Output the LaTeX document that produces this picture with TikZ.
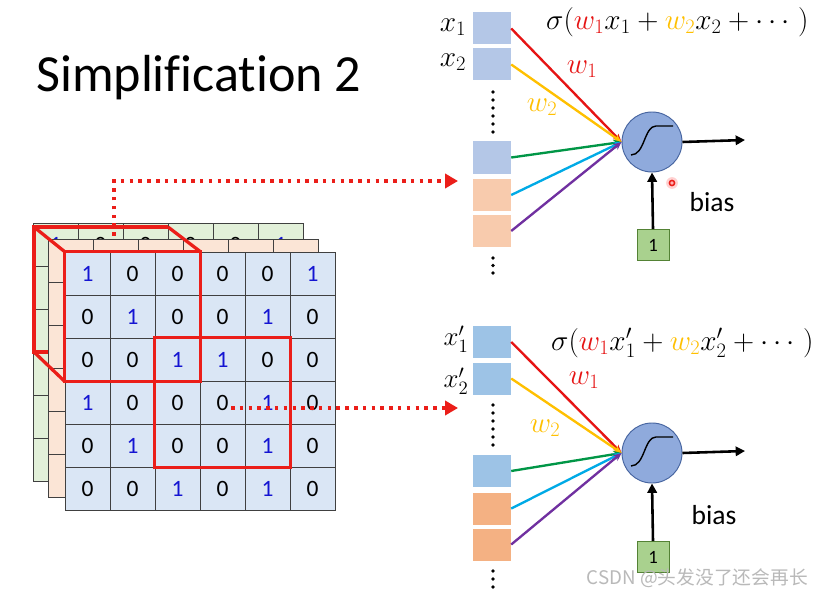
\documentclass[tikz,border=0pt]{standalone}
\usepackage{fix-cm}
\usepackage{fontspec}
\setmainfont{Carlito}[Ligatures=NoCommon]
\newfontfamily\cjk{Noto Sans CJK SC}
\usepackage{xcolor}
\usepackage{tikz}
\usetikzlibrary{arrows.meta,calc}
\definecolor{gridgray}{RGB}{64,64,64}
\definecolor{mapblue}{RGB}{218,230,245}
\definecolor{mappeach}{RGB}{251,229,214}
\definecolor{mapgreen}{RGB}{226,240,217}
\definecolor{digitblue}{RGB}{20,20,210}
\definecolor{boxred}{RGB}{235,30,25}
\definecolor{inblueA}{RGB}{180,199,231}
\definecolor{inpeachA}{RGB}{248,203,173}
\definecolor{inblueB}{RGB}{157,195,230}
\definecolor{inpeachB}{RGB}{244,177,131}
\definecolor{neuronblue}{RGB}{143,170,220}
\definecolor{neuronline}{RGB}{70,100,160}
\definecolor{onegreen}{RGB}{169,209,142}
\definecolor{onegreenline}{RGB}{84,130,53}
\definecolor{wred}{RGB}{230,20,20}
\definecolor{wyellow}{RGB}{255,192,0}
\definecolor{wgreen}{RGB}{0,150,70}
\definecolor{wcyan}{RGB}{0,170,230}
\definecolor{wpurple}{RGB}{112,48,160}
\newcommand{\cellval}[1]{\ifnum#1=1 \textcolor{digitblue}{1}\else 0\fi}
\def\mapvals{{1,0,0,0,0,1},{0,1,0,0,1,0},{0,0,1,1,0,0},{1,0,0,0,1,0},{0,1,0,0,1,0},{0,0,1,0,1,0}}

\begin{document}
\begin{tikzpicture}[
  x=0.03cm, y=-0.03cm,
  cell/.style = {
    rectangle, draw=gridgray, line width=0.6pt,
    minimum width=1.35cm, minimum height=1.29cm, inner sep=0pt,
    font=\fontsize{20}{22}\selectfont
  },
  inbox/.style = {rectangle, minimum width=1.14cm, minimum height=0.96cm, inner sep=0pt},
  neuron/.style = {
    circle, draw=neuronline, fill=neuronblue, line width=0.8pt,
    minimum size=1.8cm, inner sep=0pt
  },
  onebox/.style = {
    rectangle, draw=onegreenline, fill=onegreen, line width=0.8pt,
    minimum width=0.96cm, minimum height=0.93cm, inner sep=0pt,
    font=\fontsize{16}{18}\selectfont
  },
  mathlbl/.style = {font=\fontsize{25}{30}\selectfont, inner sep=0pt},
  primelbl/.style = {font=\fontsize{23}{26}\selectfont, inner sep=0pt},
  biaslbl/.style = {font=\fontsize{23.5}{26}\selectfont, inner sep=1pt},
  warr/.style = {-{Stealth[length=7pt,width=6pt]}, line width=2pt},
  outarr/.style = {-{Triangle[length=8pt,width=8pt]}, line width=2.2pt},
  dotarr/.style = {boxred, line width=3pt, dash pattern=on 3pt off 4.5pt,
    -{Triangle[length=11pt,width=12pt]}},
  redbox/.style = {boxred, line width=2.8pt}
]
  \fill[white] (0,0) rectangle (825,596);
  \useasboundingbox (0,0) rectangle (825,596);

  \node[anchor=west, font=\fontsize{44.5}{52}\selectfont] (title) at (32,78) {Simplification 2};

  % stacked feature maps
  \foreach \rowv [count=\i] in \mapvals {
    \foreach \v [count=\j] in \rowv
      \node[cell, fill=mapgreen] (g-\i-\j) at ({33+45*\j-22.5},{223+43*\i-21.5}) {\cellval{\v}};
  }
  \coordinate (cb1) at (34,227);
  \coordinate (cb2) at (168,227);
  \coordinate (cb3) at (34,352);
  \draw[redbox] (cb2) -- (cb1) -- (cb3) -- ++(134,0);
  \coordinate (src1) at (114,262);
  \coordinate (tgt1) at (458,181);
  \draw[dotarr] (src1) |- (tgt1);

  \foreach \rowv [count=\i] in \mapvals {
    \foreach \v [count=\j] in \rowv
      \node[cell, fill=mappeach] (p-\i-\j) at ({48+45*\j-22.5},{239+43*\i-21.5}) {\cellval{\v}};
  }
  \foreach \rowv [count=\i] in \mapvals {
    \foreach \v [count=\j] in \rowv
      \node[cell, fill=mapblue] (f-\i-\j) at ({65+45*\j-22.5},{252+43*\i-21.5}) {\cellval{\v}};
  }

  % receptive fields
  \draw[redbox] (cb1) -- (f-1-1.north west);
  \draw[redbox] (cb2) -- (f-1-3.north east);
  \draw[redbox] (cb3) -- (f-3-1.south west);
  \draw[redbox] (f-1-1.north west) rectangle (f-3-3.south east);
  \draw[redbox] (f-3-3.north west) rectangle (f-5-5.south east);
  \coordinate (src2) at (231,408);
  \coordinate (tgt2) at (458,408);
  \draw[dotarr] (src2) -- (tgt2);

  % upper neuron
  \node[inbox, fill=inblueA]   (a1) at (492,28.5) {};
  \node[inbox, fill=inblueA]   (a2) at (492,64.5) {};
  \node[inbox, fill=inblueA]   (a3) at (492,157.5) {};
  \node[inbox, fill=inpeachA]  (a4) at (492,195) {};
  \node[inbox, fill=inpeachA]  (a5) at (492,231) {};
  \foreach \k in {0,...,5} \fill (493,{92+8*\k}) circle (1.6pt);
  \foreach \k in {0,...,2} \fill (493,{258+7.5*\k}) circle (1.6pt);
  \node[mathlbl] (xa1) at (453,27) {$x_1$};
  \node[mathlbl] (xa2) at (453,62) {$x_2$};
  \node[neuron] (na) at (652,142) {};
  \draw[line width=1.2pt] ([shift={(-21,13)}]na.center) .. controls +(14,0) and +(-12,0) .. ++(25,-29) -- ++(17,0);
  \draw[warr, wred]    (a1.east) -- (na.west);
  \draw[warr, wyellow] (a2.east) -- (na.west);
  \draw[warr, wgreen]  (a3.east) -- (na.west);
  \draw[warr, wcyan]   (a4.east) -- (na.west);
  \draw[warr, wpurple] (a5.east) -- (na.west);
  \node[mathlbl, text=wred]    (wa1) at (582,69)  {$w_1$};
  \node[mathlbl, text=wyellow] (wa2) at (542,107) {$w_2$};
  \node[mathlbl, anchor=west] (fa) at (546,22) {$\sigma(\textcolor{wred}{w_1}x_1+\textcolor{wyellow}{w_2}x_2+\cdots\;)$};
  \coordinate (outa) at (745,140);
  \draw[outarr] (na.east) -- (outa);
  \node[onebox] (onea) at (653,245) {1};
  \draw[outarr] (onea.north) -- (na.south);
  \node[biaslbl] (biasa) at (712,202) {bias};
  \fill[red!18] (672,183) circle (5pt);
  \draw[boxred, line width=1.3pt, fill=red!30] (672,183) circle (2.2pt);

  % lower neuron
  \node[inbox, fill=inblueB]   (b1) at (492,342) {};
  \node[inbox, fill=inblueB]   (b2) at (492,378.5) {};
  \node[inbox, fill=inblueB]   (b3) at (492,471) {};
  \node[inbox, fill=inpeachB]  (b4) at (492,508.5) {};
  \node[inbox, fill=inpeachB]  (b5) at (492,544.5) {};
  \foreach \k in {0,...,5} \fill (493,{405+8*\k}) circle (1.6pt);
  \foreach \k in {0,...,2} \fill (493,{571+8*\k}) circle (1.6pt);
  \node[primelbl] (xb1) at (456,339) {$x'_1$};
  \node[primelbl] (xb2) at (456,381) {$x'_2$};
  \node[neuron] (nb) at (652,453) {};
  \draw[line width=1.2pt] ([shift={(-21,13)}]nb.center) .. controls +(14,0) and +(-12,0) .. ++(25,-29) -- ++(17,0);
  \draw[warr, wred]    (b1.east) -- (nb.west);
  \draw[warr, wyellow] (b2.east) -- (nb.west);
  \draw[warr, wgreen]  (b3.east) -- (nb.west);
  \draw[warr, wcyan]   (b4.east) -- (nb.west);
  \draw[warr, wpurple] (b5.east) -- (nb.west);
  \node[mathlbl, text=wred]    (wb1) at (584,380) {$w_1$};
  \node[mathlbl, text=wyellow] (wb2) at (545,428) {$w_2$};
  \node[mathlbl, anchor=west] (fb) at (551,343) {$\sigma(\textcolor{wred}{w_1}x'_1+\textcolor{wyellow}{w_2}x'_2+\cdots\;)$};
  \coordinate (outb) at (745,451);
  \draw[outarr] (nb.east) -- (outb);
  \node[onebox] (oneb) at (653,557) {1};
  \draw[outarr] (oneb.north) -- (nb.south);
  \node[biaslbl] (biasb) at (714,515) {bias};

  \node[anchor=east, font=\cjk\fontsize{16}{18}\selectfont, text=gray!55] (wm) at (812,578) {CSDN @头发没了还会再长};
\end{tikzpicture}
\end{document}
